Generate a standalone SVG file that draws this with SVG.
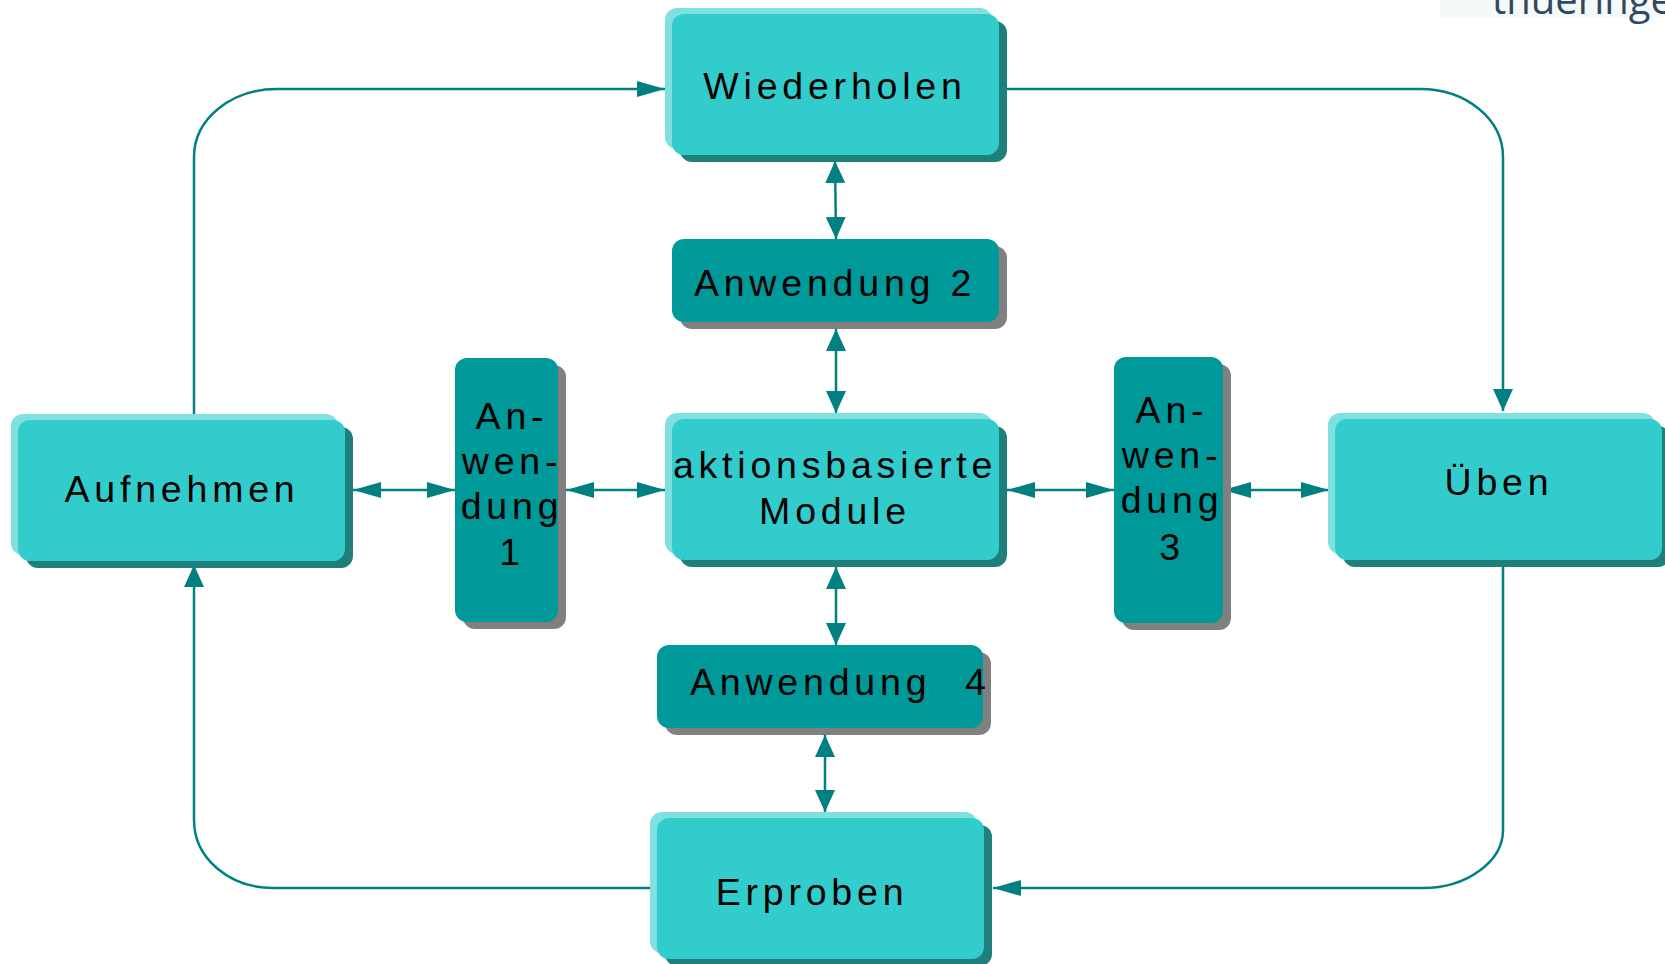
<svg xmlns="http://www.w3.org/2000/svg" width="1665" height="964" viewBox="0 0 1665 964">
<style>
.lt{fill:#80E0E0}
.fc{fill:#33CCCC}
.sd{fill:#1F7F7B}
.dk{fill:#009999}
.gs{fill:#808080}
.t{font-family:"Liberation Sans",Arial,sans-serif;font-size:37.5px;letter-spacing:4.8px;fill:#000;text-anchor:middle}
.c{fill:none;stroke:#008080;stroke-width:2.5}
</style>
<defs>
<marker id="ah" markerUnits="userSpaceOnUse" markerWidth="28" markerHeight="16" refX="28" refY="8" orient="auto-start-reverse">
<path d="M0,0 L28,8 L0,16 z" fill="#008080"/>
</marker>
<marker id="av" markerUnits="userSpaceOnUse" markerWidth="22" markerHeight="20" refX="22" refY="10" orient="auto-start-reverse">
<path d="M0,0 L22,10 L0,20 z" fill="#008080"/>
</marker>
</defs>
<rect width="1665" height="964" fill="#fff"/>
<g id="watermark">
<rect x="1440" y="0" width="225" height="18" fill="#f6f9fa"/>
<text x="1492" y="14" font-family="'Open Sans',sans-serif" font-size="40" fill="#2f4a60">thueringen</text>
</g>
<g id="connectors">
<path class="c" d="M194,414 V157 C194,119 231,89 277,89 H665" marker-end="url(#ah)"/>
<path class="c" d="M1007,89 H1420 C1466,89 1503,119 1503,157 V411" marker-end="url(#av)"/>
<path class="c" d="M1503,566 V830 C1503,862 1466,888 1423,888 H993" marker-end="url(#ah)"/>
<path class="c" d="M650,888 H273 C229,888 194,858 194,820 V565" marker-end="url(#av)"/>
<path class="c" d="M835,161 L836,239" marker-start="url(#av)" marker-end="url(#av)"/>
<path class="c" d="M836,329 V413" marker-start="url(#av)" marker-end="url(#av)"/>
<path class="c" d="M836,567 V645" marker-start="url(#av)" marker-end="url(#av)"/>
<path class="c" d="M825,735 V812" marker-start="url(#av)" marker-end="url(#av)"/>
<path class="c" d="M353,490 H455" marker-start="url(#ah)" marker-end="url(#ah)"/>
<path class="c" d="M566,490 H665" marker-start="url(#ah)" marker-end="url(#ah)"/>
<path class="c" d="M1007,490 H1114" marker-start="url(#ah)" marker-end="url(#ah)"/>
<path class="c" d="M1223,490 H1329" marker-start="url(#ah)" marker-end="url(#ah)"/>
</g>
<g id="wiederholen">
<rect class="sd" x="680" y="21" width="327" height="141" rx="12"/>
<rect class="lt" x="665" y="8" width="327" height="141" rx="12"/>
<rect class="fc" x="672" y="14" width="327" height="141" rx="12"/>
<text class="t" x="835" y="99">Wiederholen</text>
</g>
<g id="anwendung2">
<rect class="gs" x="680" y="246" width="327" height="83" rx="12"/>
<rect class="dk" x="672" y="239" width="327" height="83" rx="12"/>
<text class="t" x="835" y="296">Anwendung 2</text>
</g>
<g id="module">
<rect class="sd" x="680" y="426" width="327" height="141" rx="12"/>
<rect class="lt" x="665" y="413" width="327" height="141" rx="12"/>
<rect class="fc" x="672" y="419" width="327" height="141" rx="12"/>
<text class="t" x="835" y="478">aktionsbasierte</text>
<text class="t" x="835" y="524">Module</text>
</g>
<g id="aufnehmen">
<rect class="sd" x="26" y="427" width="327" height="141" rx="12"/>
<rect class="lt" x="11" y="414" width="327" height="141" rx="12"/>
<rect class="fc" x="18" y="420" width="327" height="141" rx="12"/>
<text class="t" x="182" y="502">Aufnehmen</text>
</g>
<g id="anwendung1">
<rect class="gs" x="463" y="365" width="103" height="264" rx="12"/>
<rect class="dk" x="455" y="358" width="103" height="264" rx="12"/>
<text class="t" x="512" y="429">An-</text>
<text class="t" x="512" y="474">wen-</text>
<text class="t" x="512" y="519">dung</text>
<text class="t" x="512" y="565">1</text>
</g>
<g id="anwendung3">
<rect class="gs" x="1122" y="364" width="109" height="266" rx="12"/>
<rect class="dk" x="1114" y="357" width="109" height="266" rx="12"/>
<text class="t" x="1172" y="423">An-</text>
<text class="t" x="1172" y="468">wen-</text>
<text class="t" x="1172" y="513">dung</text>
<text class="t" x="1172" y="560">3</text>
</g>
<g id="ueben">
<rect class="sd" x="1343" y="426" width="327" height="141" rx="12"/>
<rect class="lt" x="1328" y="413" width="327" height="141" rx="12"/>
<rect class="fc" x="1335" y="419" width="327" height="141" rx="12"/>
<text class="t" x="1499" y="495">Üben</text>
</g>
<g id="anwendung4">
<rect class="gs" x="665" y="652" width="326" height="83" rx="12"/>
<rect class="dk" x="657" y="645" width="326" height="83" rx="12"/>
<text class="t" x="690" y="695" style="text-anchor:start">Anwendung <tspan x="965">4</tspan></text>
</g>
<g id="erproben">
<rect class="sd" x="665" y="825" width="327" height="141" rx="12"/>
<rect class="lt" x="650" y="812" width="327" height="141" rx="12"/>
<rect class="fc" x="657" y="818" width="327" height="141" rx="12"/>
<text class="t" x="812" y="905">Erproben</text>
</g>
</svg>
